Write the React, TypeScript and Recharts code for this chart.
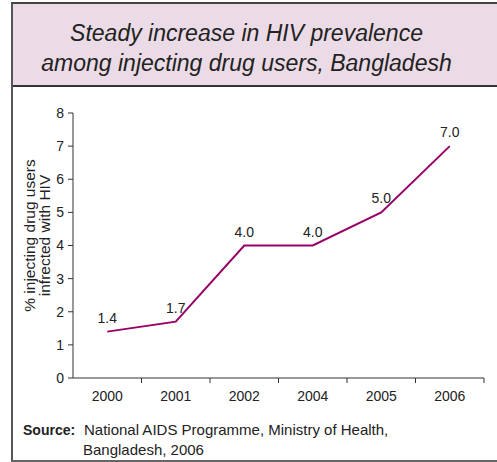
import { LineChart, Line, XAxis, YAxis, LabelList } from 'recharts';

// HIV prevalence among injecting drug users, Bangladesh
const years = ['2000', '2001', '2002', '2004', '2005', '2006'];
const prevalence = [1.4, 1.7, 4.0, 4.0, 5.0, 7.0];
const yTicks = [0, 1, 2, 3, 4, 5, 6, 7, 8];

const data = years.map((year, i) => ({ year, value: prevalence[i] }));

const CHART_W = 497;
const CHART_H = 320;
const MARGIN = { top: 18, right: 13, left: 0, bottom: 7 };
const Y_AXIS_W = 73;
const X_TICK_SIZE = 5;
const X_TICK_MARGIN = 7;

const LINE_COLOR = '#990066';
const AXIS_COLOR = '#333';
const TEXT_COLOR = '#222';
const FONT = '"Liberation Sans", Arial, sans-serif';

// category label in the middle of the band, tick mark at the band's right edge
const YearTick = (props: any) => {
  const { x, y, payload } = props;
  const plotW = CHART_W - MARGIN.left - MARGIN.right - Y_AXIS_W;
  const band = plotW / years.length;
  const axisY = y - X_TICK_SIZE - X_TICK_MARGIN;
  return (
    <g>
      <line x1={x + band / 2} x2={x + band / 2} y1={axisY} y2={axisY + X_TICK_SIZE} stroke={AXIS_COLOR} />
      <text x={x} y={y} dy="0.75em" textAnchor="middle" fill={TEXT_COLOR} fontSize={14} fontFamily={FONT}>
        {payload.value}
      </text>
    </g>
  );
};

const YTitle = (props: any) => {
  const vb = props.viewBox || { x: 0, y: MARGIN.top, height: 265 };
  const bx = vb.x + 35;
  const cy = vb.y + vb.height / 2 - 10;
  return (
    <text
      x={bx}
      y={cy}
      transform={`rotate(-90 ${bx} ${cy})`}
      textAnchor="middle"
      fill={TEXT_COLOR}
      fontSize={15.5}
      fontFamily={FONT}
    >
      <tspan x={bx} dy={0}>% injecting drug users</tspan>
      <tspan x={bx} dy={14.5}>infrected with HIV</tspan>
    </text>
  );
};

export default function App() {
  return (
    <div
      style={{
        position: 'absolute',
        left: 0,
        top: 0,
        width: 497,
        height: 462,
        overflow: 'hidden',
        background: '#fff',
        fontFamily: FONT,
      }}
    >
      {/* outer frame */}
      <div
        style={{
          position: 'absolute',
          left: 11,
          top: 2,
          width: 520,
          height: 456,
          borderLeft: '2px solid #555',
          borderTop: '2px solid #444',
          borderBottom: '2px solid #666',
        }}
      />
      {/* title box */}
      <div
        style={{
          position: 'absolute',
          left: 13,
          top: 4,
          width: 520,
          height: 81,
          background: '#ebdbe6',
          borderBottom: '2px solid #333',
        }}
      />
      <div
        style={{
          position: 'absolute',
          left: 0,
          top: 18,
          width: 493,
          textAlign: 'center',
          fontStyle: 'italic',
          fontSize: 23,
          lineHeight: '30px',
          color: TEXT_COLOR,
        }}
      >
        Steady increase in HIV prevalence
        <br />
        among injecting drug users, Bangladesh
      </div>

      <div style={{ position: 'absolute', left: 0, top: 95 }}>
        <LineChart width={CHART_W} height={CHART_H} data={data} margin={MARGIN}>
          <XAxis
            dataKey="year"
            scale="band"
            height={30}
            stroke={AXIS_COLOR}
            tickLine={false}
            tickSize={X_TICK_SIZE}
            tickMargin={X_TICK_MARGIN}
            tick={<YearTick />}
            interval={0}
          />
          <YAxis
            width={Y_AXIS_W}
            domain={[0, 8]}
            ticks={yTicks}
            interval={0}
            stroke={AXIS_COLOR}
            tickSize={5}
            tickMargin={4}
            tick={{ fill: TEXT_COLOR, fontSize: 14, fontFamily: FONT }}
            label={{ content: <YTitle /> }}
          />
          <Line
            type="linear"
            dataKey="value"
            stroke={LINE_COLOR}
            strokeWidth={2}
            dot={false}
            isAnimationActive={false}
          >
            <LabelList
              dataKey="value"
              position="top"
              offset={9}
              fill={TEXT_COLOR}
              fontSize={14}
              fontFamily={FONT}
              formatter={(v: any) => Number(v).toFixed(1)}
            />
          </Line>
        </LineChart>
      </div>

      {/* source note */}
      <div style={{ position: 'absolute', left: 23, top: 420, fontSize: 15, lineHeight: '20px', color: TEXT_COLOR }}>
        <span style={{ fontWeight: 'bold', fontSize: 14, position: 'absolute', left: 0, top: 0, whiteSpace: 'nowrap' }}>
          Source:
        </span>
        <div style={{ position: 'absolute', left: 61, top: 0, whiteSpace: 'nowrap' }}>
          National AIDS Programme, Ministry of Health,
        </div>
        <div style={{ position: 'absolute', left: 60, top: 20, whiteSpace: 'nowrap' }}>Bangladesh, 2006</div>
      </div>
    </div>
  );
}
